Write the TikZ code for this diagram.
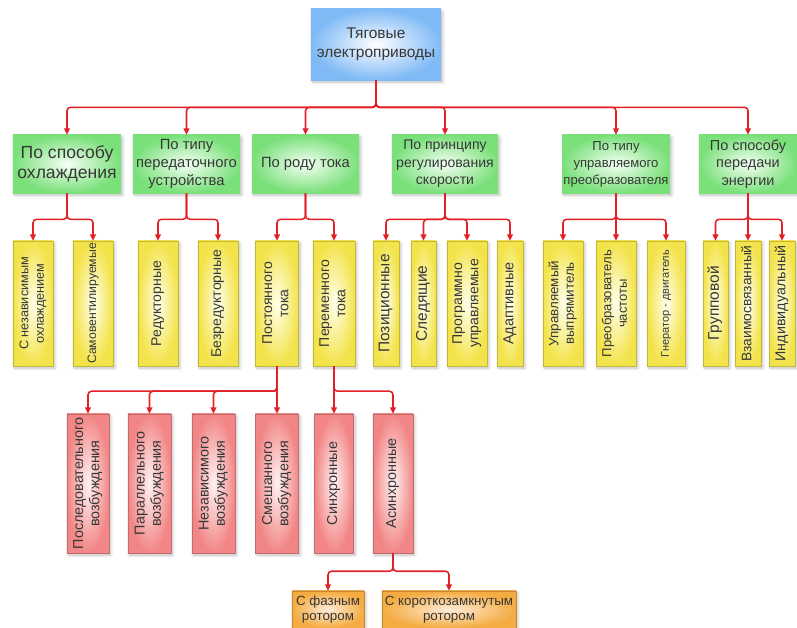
\documentclass[tikz,border=0pt]{standalone}
\usepackage{fontspec}
\setmainfont{Liberation Sans}
\usepackage{graphicx}
\usetikzlibrary{arrows.meta, shadows.blur}

\definecolor{linkred}{RGB}{226,32,40}
\definecolor{topblue}{RGB}{128,186,246}
\definecolor{catgreen}{RGB}{122,224,122}
\definecolor{leafyellow}{RGB}{243,227,74}
\definecolor{leafred}{RGB}{242,134,134}
\definecolor{leaforange}{RGB}{244,172,66}
\definecolor{txtgray}{RGB}{55,55,55}

% vertical text for the narrow boxes
\newcommand{\vlabel}[1]{\rotatebox{90}{\begin{tabular}{@{}c@{}}#1\end{tabular}}}

\begin{document}
\begin{tikzpicture}[
    x=0.025cm, y=-0.025cm,
    box/.style={rectangle, inner sep=1pt, align=center, text=txtgray,
        blur shadow={shadow xshift=1.2pt, shadow yshift=-1.5pt, shadow opacity=25, shadow blur steps=6}},
    rootbox/.style={box, inner color=white, outer color=topblue, minimum width=3.25cm, minimum height=1.775cm, font=\fontsize{11}{13.5}\selectfont},
    catbox/.style={box, inner color=green!4, outer color=catgreen, minimum height=1.45cm, font=\fontsize{10.5}{13}\selectfont},
    leafbox/.style={box, inner color=yellow!8, outer color=leafyellow, draw=leafyellow!80!black, line width=0.3pt, minimum height=3.125cm, font=\fontsize{10}{11.5}\selectfont},
    exbox/.style={box, inner color=red!5, outer color=leafred, draw=leafred!80!black, line width=0.3pt, minimum height=3.475cm, font=\fontsize{10.2}{11.5}\selectfont},
    rotorbox/.style={box, inner color=orange!15, outer color=leaforange, draw=leaforange!80!black, line width=0.3pt, minimum height=0.925cm, font=\fontsize{9.5}{11}\selectfont},
    link/.style={draw=linkred, line width=1.1pt, rounded corners=2.5pt, -{Triangle[length=4.5pt, width=4pt]}}
]
    \useasboundingbox (0,0) rectangle (797,628);

    % --- Root ---
    \node[rootbox] (root) at (376,44.5) {Тяговые\\электроприводы};

    % --- Classification criteria ---
    \node[catbox, minimum width=2.7cm, font=\fontsize{12.5}{14}\selectfont] (c1) at (67,164) {По способу\\охлаждения};
    \node[catbox, minimum width=2.675cm] (c2) at (186.5,164) {По типу\\передаточного\\устройства};
    \node[catbox, minimum width=2.675cm] (c3) at (305.5,164) {По роду тока};
    \node[catbox, minimum width=2.65cm, font=\fontsize{10}{12.5}\selectfont] (c4) at (445,164) {По принципу\\регулирования\\скорости};
    \node[catbox, minimum width=2.675cm, font=\fontsize{9.3}{12}\selectfont] (c5) at (616,164) {По типу\\управляемого\\преобразователя};
    \node[catbox, minimum width=2.45cm, font=\fontsize{10.3}{12.5}\selectfont] (c6) at (748,164) {По способу\\передачи\\энергии};

    % --- Second level (yellow) ---
    \node[leafbox, minimum width=1.0cm, font=\fontsize{9}{11}\selectfont] (l1) at (33,303.5) {\vlabel{С независимым\\охлаждением}};
    \node[leafbox, minimum width=1.0cm, font=\fontsize{8.7}{11}\selectfont] (l2) at (93,303.5) {\vlabel{Самовентилируемые}};
    \node[leafbox, minimum width=1.0cm] (l3) at (158,303.5) {\vlabel{Редукторные}};
    \node[leafbox, minimum width=1.0cm] (l4) at (218,303.5) {\vlabel{Безредукторные}};
    \node[leafbox, minimum width=1.075cm] (l5) at (277,303.5) {\vlabel{Постоянного\\тока}};
    \node[leafbox, minimum width=1.05cm] (l6) at (334,303.5) {\vlabel{Переменного\\тока}};
    \node[leafbox, minimum width=0.65cm, font=\fontsize{11}{12}\selectfont] (l7) at (386,303.5) {\vlabel{Позиционные}};
    \node[leafbox, minimum width=0.625cm, font=\fontsize{11}{12}\selectfont] (l8) at (423.5,303.5) {\vlabel{Следящие}};
    \node[leafbox, minimum width=1.0cm] (l9) at (467,303.5) {\vlabel{Программно\\управляемые}};
    \node[leafbox, minimum width=0.65cm, font=\fontsize{10.3}{12}\selectfont] (l10) at (510,303.5) {\vlabel{Адаптивные}};
    \node[leafbox, minimum width=1.0cm, font=\fontsize{9.5}{11}\selectfont] (l11) at (563,303.5) {\vlabel{Управляемый\\выпрямитель}};
    \node[leafbox, minimum width=1.0cm, font=\fontsize{9.3}{11}\selectfont] (l12) at (616,303.5) {\vlabel{Преобразователь\\частоты}};
    \node[leafbox, minimum width=0.95cm, font=\fontsize{7.8}{10}\selectfont] (l13) at (666,303.5) {\vlabel{Гнератор - двигатель}};
    \node[leafbox, minimum width=0.625cm, font=\fontsize{11}{12}\selectfont] (l14) at (715.5,303.5) {\vlabel{Групповой}};
    \node[leafbox, minimum width=0.65cm, font=\fontsize{9.8}{12}\selectfont] (l15) at (748,303.5) {\vlabel{Взаимосвязанный}};
    \node[leafbox, minimum width=0.65cm, font=\fontsize{10.2}{12}\selectfont] (l16) at (782,303.5) {\vlabel{Индивидуальный}};

    % --- Third level (red) ---
    \node[exbox, minimum width=1.05cm] (e1) at (88,483.5) {\vlabel{Последовательного\\возбуждения}};
    \node[exbox, minimum width=1.075cm] (e2) at (149.5,483.5) {\vlabel{Параллельного\\возбуждения}};
    \node[exbox, minimum width=1.075cm] (e3) at (213.5,483.5) {\vlabel{Независимого\\возбуждения}};
    \node[exbox, minimum width=1.075cm] (e4) at (277,483.5) {\vlabel{Смешанного\\возбуждения}};
    \node[exbox, minimum width=0.975cm] (e5) at (334,483.5) {\vlabel{Синхронные}};
    \node[exbox, minimum width=1.0cm] (e6) at (393,483.5) {\vlabel{Асинхронные}};

    % --- Rotor types (orange) ---
    \node[rotorbox, minimum width=1.8cm] (o1) at (328,609.5) {С фазным\\ротором};
    \node[rotorbox, minimum width=3.35cm] (o2) at (449,609.5) {С короткозамкнутым\\ротором};

    % --- Connectors ---
    \foreach \k in {1,...,6}
        \draw[link] (root.south) -- ++(0,27) -| (c\k.north);

    \foreach \p/\k in {c1/l1, c1/l2, c2/l3, c2/l4, c3/l5, c3/l6, c4/l7, c4/l8, c4/l9, c4/l10, c5/l11, c5/l13, c6/l14, c6/l16}
        \draw[link] (\p.south) -- ++(0,26) -| (\k.north);
    \draw[link] (c5.south) -- (l12.north);
    \draw[link] (c6.south) -- (l15.north);

    \foreach \k in {1,2,3}
        \draw[link] (l5.south) -- ++(0,25) -| (e\k.north);
    \draw[link] (l5.south) -- (e4.north);
    \draw[link] (l6.south) -- (e5.north);
    \draw[link] (l6.south) -- ++(0,25) -| (e6.north);

    \foreach \k in {1,2}
        \draw[link] (e6.south) -- ++(0,18) -| (o\k.north);

\end{tikzpicture}
\end{document}
